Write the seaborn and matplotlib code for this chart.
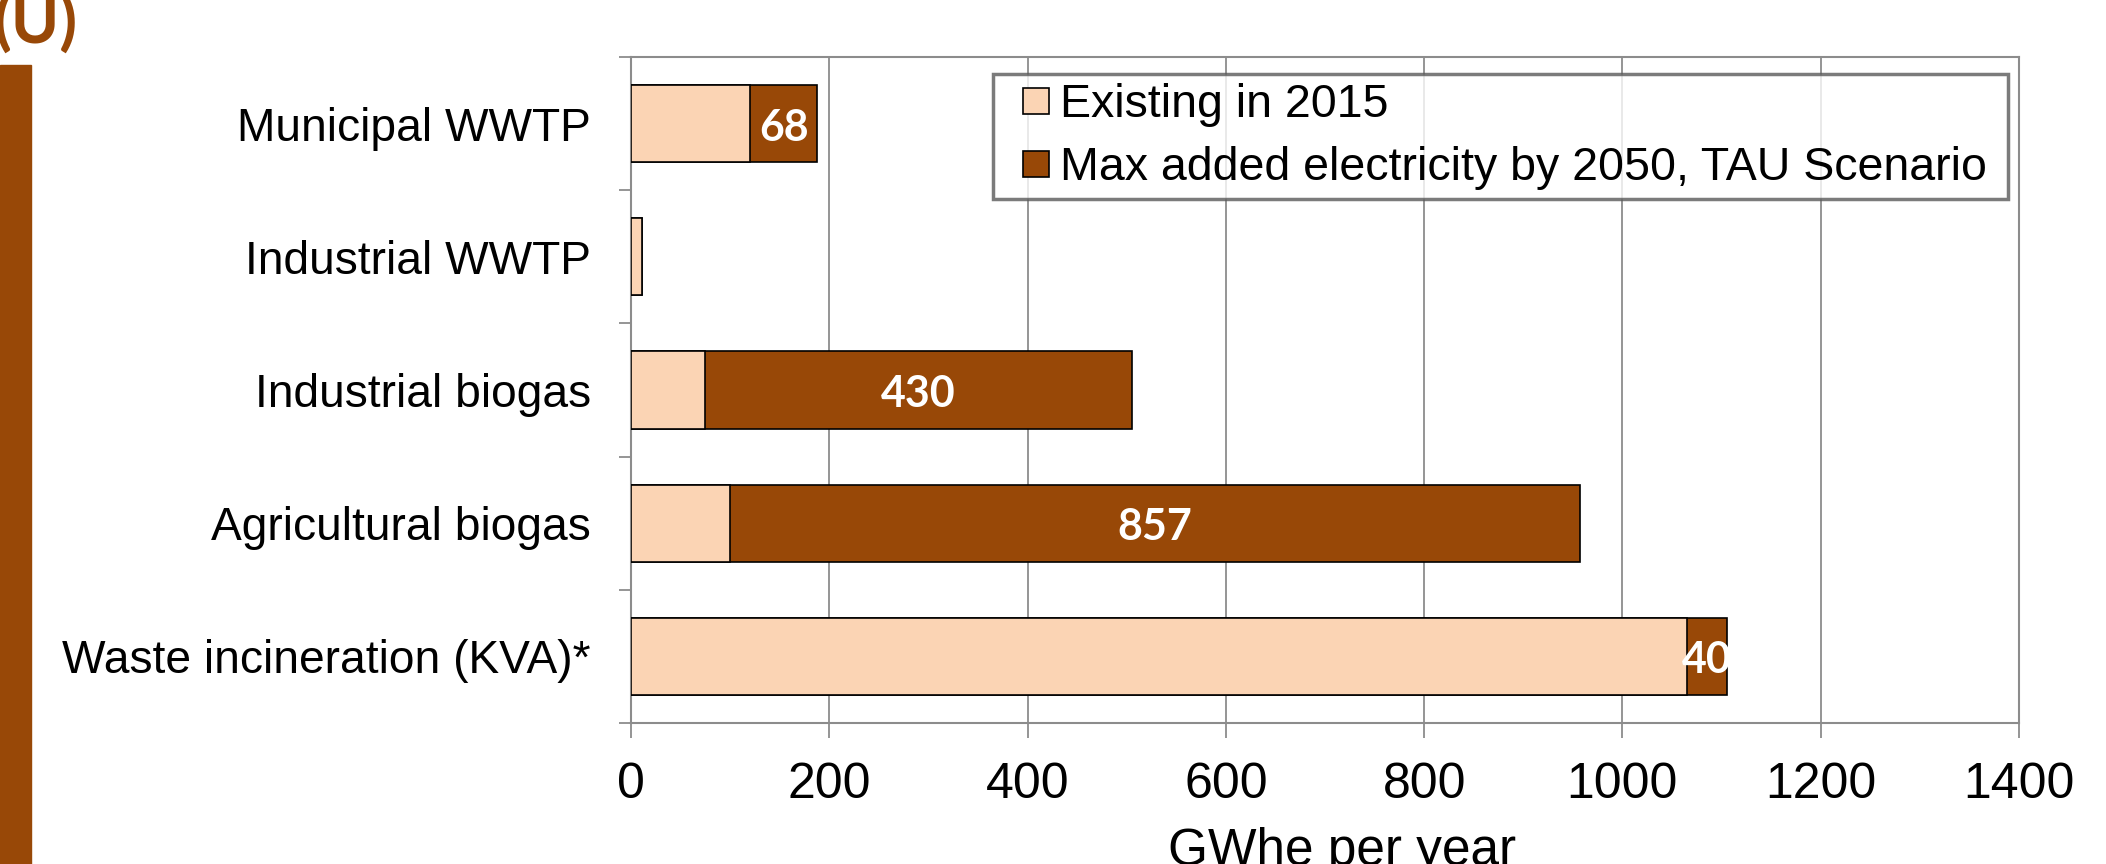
import matplotlib
matplotlib.use("Agg")
import matplotlib.pyplot as plt
from matplotlib.lines import Line2D
from matplotlib.patches import Rectangle
import pandas as pd
import seaborn as sns

# data (GWhe per year)
categories = ["Municipal WWTP", "Industrial WWTP", "Industrial biogas",
              "Agricultural biogas", "Waste incineration (KVA)*"]
existing_2015 = [120, 11, 75, 100, 1065]
added_2050 = [68, 0, 430, 857, 40]
series_names = ["Existing in 2015", "Max added electricity by 2050, TAU Scenario"]
x_ticks = [0, 200, 400, 600, 800, 1000, 1200, 1400]

LIGHT = "#FBD4B4"
DARK = "#984807"
GREY = "#8C8C8C"


def main():
    df = pd.DataFrame({"category": categories,
                       "existing": existing_2015,
                       "added": added_2050})
    df["total"] = df["existing"] + df["added"]

    sns.set_style("white")
    plt.rcParams["font.family"] = ["Liberation Sans", "DejaVu Sans"]
    plt.rcParams["text.color"] = "black"
    plt.rcParams["axes.labelcolor"] = "black"

    fig = plt.figure(figsize=(21.06, 8.64), dpi=100)
    ax = fig.add_axes([0.2996, 0.1632, 0.6591, 0.7708])

    # stacked bars: total drawn first, existing on top of it
    sns.barplot(data=df, x="total", y="category", orient="h", color=DARK,
                width=0.58, edgecolor="black", linewidth=1.2, saturation=1,
                ax=ax, zorder=3)
    sns.barplot(data=df, x="existing", y="category", orient="h", color=LIGHT,
                width=0.58, edgecolor="black", linewidth=1.2, saturation=1,
                ax=ax, zorder=3)

    total_bars = ax.patches[:len(categories)]

    # white value labels in the added part
    for i, row in df.iterrows():
        if row["added"] <= 0:
            continue
        t = ax.text(row["existing"] + row["added"] / 2, i + 0.03, f"{row['added']:g}",
                    ha="center", va="center", color="white", fontsize=31,
                    fontweight="bold", family="Lato", zorder=4)
        t.set_clip_path(total_bars[i])

    ax.set_xlim(0, 1400)
    ax.set_xticks(x_ticks)
    ax.set_ylim(len(categories) - 0.5, -0.5)
    ax.set_yticks(range(len(categories)))
    ax.set_yticks([i - 0.5 for i in range(len(categories) + 1)], minor=True)

    ax.grid(axis="x", color=GREY, linewidth=1.3, zorder=0)
    ax.set_axisbelow(True)
    for s in ax.spines.values():
        s.set_visible(True)
        s.set_color(GREY)
        s.set_linewidth(1.5)

    ax.tick_params(axis="x", which="major", direction="out", length=10.8,
                   width=1.3, color=GREY, labelcolor="black", labelsize=36,
                   pad=17, bottom=True)
    ax.tick_params(axis="y", which="major", length=0, labelsize=33.2, pad=29,
                   labelcolor="black")
    ax.tick_params(axis="y", which="minor", direction="out", length=9,
                   width=1.3, color=GREY, left=True)

    ax.set_ylabel("")
    ax.set_xlabel("GWhe per year", fontsize=37)
    ax.xaxis.set_label_coords(0.512, -0.2135)
    ax.xaxis.label.set_va("baseline")

    handles = [Line2D([], [], marker="s", linestyle="none", markersize=19,
                      markerfacecolor=c, markeredgecolor="black",
                      markeredgewidth=1.2) for c in (LIGHT, DARK)]
    leg = ax.legend(handles, series_names, loc="upper left",
                    bbox_to_anchor=(0.261, 0.79, 0.731, 0.1845),
                    mode="expand", borderaxespad=0, fontsize=33.5,
                    frameon=True, fancybox=False, borderpad=0.2,
                    handlelength=1.45, handletextpad=-0.22, labelspacing=0.4)
    leg.get_frame().set_edgecolor("#5A5A5A")
    leg.get_frame().set_linewidth(2.5)
    leg.set_zorder(5)

    # brown side bar and cut-off "(U)" heading
    fig.patches.append(Rectangle((0, 0), 31 / 2106, (864 - 65) / 864,
                                 transform=fig.transFigure, color=DARK))
    fig.text(78 / 2106, 1 - 43 / 864, "(U)", ha="right", va="baseline",
             fontsize=47, color=DARK, family="Lato", fontweight="bold")

    fig.savefig("out.png", dpi=100)


if __name__ == "__main__":
    main()
